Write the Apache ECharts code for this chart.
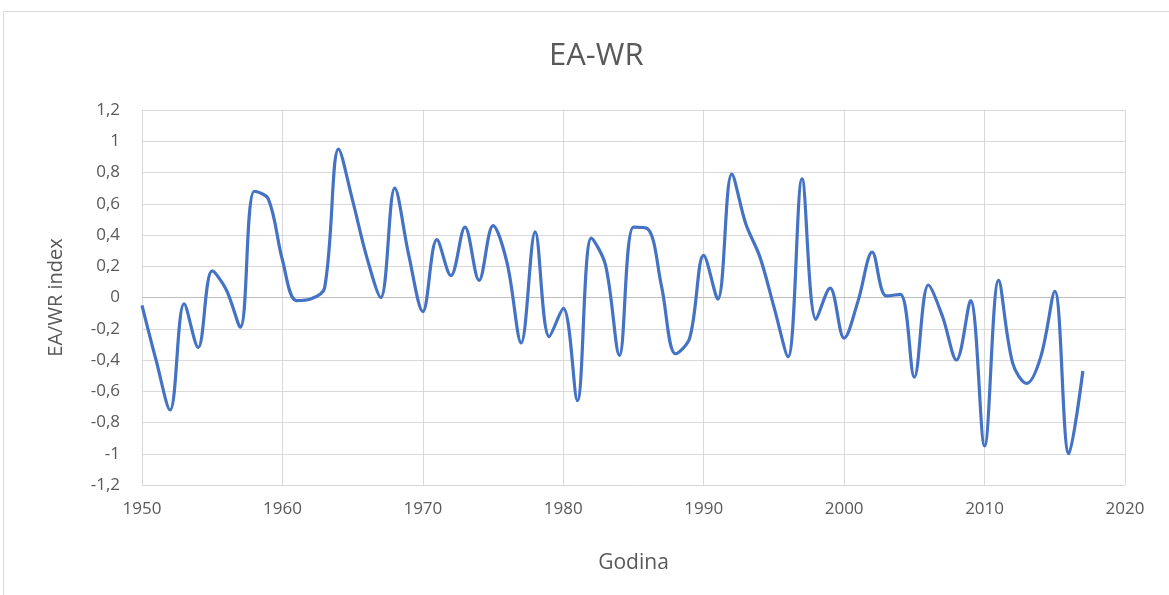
<!DOCTYPE html>
<html>
<head>
<meta charset="utf-8">
<script src="https://cdn.jsdelivr.net/npm/echarts@6/dist/echarts.min.js"></script>
<style>
html,body{margin:0;padding:0;background:#fff;}
#c{width:1169px;height:595px;}
</style>
</head>
<body>
<div id="c"></div>
<script>
const years = [1950,1951,1952,1953,1954,1955,1956,1957,1958,1959,1960,1961,1962,1963,1964,1965,1966,1967,1968,1969,
1970,1971,1972,1973,1974,1975,1976,1977,1978,1979,1980,1981,1982,1983,1984,1985,1986,1987,1988,1989,
1990,1991,1992,1993,1994,1995,1996,1997,1998,1999,2000,2001,2002,2003,2004,2005,2006,2007,2008,2009,
2010,2011,2012,2013,2014,2015,2016,2017];
const eawr = [-0.05,-0.40,-0.72,-0.04,-0.32,0.17,0.05,-0.19,0.68,0.63,0.24,-0.02,-0.01,0.06,0.95,0.62,0.26,0.00,0.70,0.27,
-0.09,0.37,0.14,0.45,0.11,0.46,0.22,-0.29,0.42,-0.25,-0.07,-0.66,0.38,0.21,-0.37,0.45,0.44,0.07,-0.36,-0.26,
0.27,-0.01,0.79,0.47,0.26,-0.06,-0.38,0.76,-0.14,0.06,-0.26,-0.02,0.29,0.01,0.02,-0.51,0.08,-0.12,-0.40,-0.02,
-0.95,0.11,-0.42,-0.55,-0.38,0.04,-1.00,-0.47];
const titleText = 'EA-WR';
const xName = 'Godina';
const yName = 'EA/WR index';

const chart = echarts.init(document.getElementById('c'));
const font = '"Open Sans", "Noto Sans", sans-serif';
const textColor = '#595959';
chart.setOption({
  animation: false,
  backgroundColor: '#fff',
  title: {
    text: titleText, left: 544, top: 36,
    textStyle: {fontFamily: font, fontSize: 31, fontWeight: 'normal', color: textColor}
  },
  graphic: [{
    type: 'rect', shape: {x: 3.5, y: 11.5, width: 1300, height: 800},
    style: {fill: 'none', stroke: '#d9d9d9', lineWidth: 1}, silent: true, z: -1
  }],
  grid: {left: 142, right: 44, top: 110, bottom: 110},
  xAxis: {
    type: 'value', min: 1950, max: 2020, interval: 10,
    name: xName, nameLocation: 'middle', nameGap: 68,
    nameTextStyle: {fontFamily: font, fontSize: 21, color: textColor},
    axisLine: {show: false}, axisTick: {show: false},
    axisLabel: {fontFamily: font, fontSize: 17, color: textColor, margin: 16,
      formatter: v => String(v)},
    splitLine: {show: true, lineStyle: {color: '#d9d9d9', width: 1}}
  },
  yAxis: {
    type: 'value', min: -1.2, max: 1.2, interval: 0.2,
    name: yName, nameLocation: 'middle', nameGap: 76, nameRotate: 90,
    nameTextStyle: {fontFamily: font, fontSize: 20, color: textColor},
    axisLine: {show: false}, axisTick: {show: false},
    axisLabel: {fontFamily: font, fontSize: 17, color: textColor, margin: 22,
      formatter: v => (Math.round(v * 10) / 10).toString().replace('.', ',')},
    splitLine: {show: true, lineStyle: {color: '#d9d9d9', width: 1}}
  },
  series: [{
    type: 'line',
    data: years.map((y, i) => [y, eawr[i]]),
    smooth: 0.35,
    showSymbol: false,
    lineStyle: {color: '#4472C4', width: 3.2},
    itemStyle: {color: '#4472C4'},
    markLine: {
      silent: true, symbol: 'none', label: {show: false},
      lineStyle: {color: '#bfbfbf', width: 1, type: 'solid'},
      data: [{yAxis: 0}], z: 1
    }
  }]
});
</script>
</body>
</html>
